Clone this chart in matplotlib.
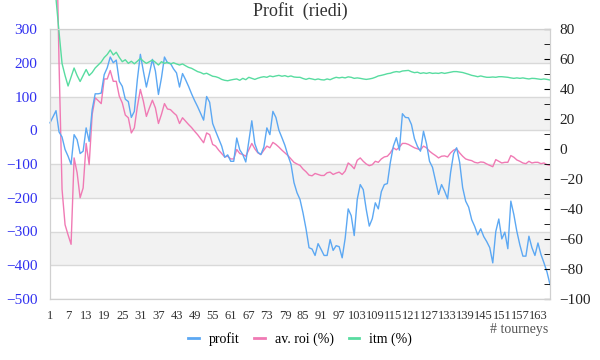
import matplotlib
matplotlib.use("Agg")
import matplotlib.pyplot as plt
from matplotlib.ticker import MultipleLocator

plt.rcParams['font.family'] = ['Liberation Serif', 'DejaVu Serif']

# datos (167 torneos)
profit = [22, 40, 58, -5, -20, -57, -77, -101, -13, -28, -69, -62, 7, -33, 61, 108, 108, 110,
          165, 185, 217, 200, 208, 145, 130, 92, 85, 38, 56, 150, 225, 175, 128, 168, 210, 175,
          106, 155, 217, 200, 198, 182, 170, 128, 168, 150, 130, 108, 88, 70, 50, 30, 100, 83,
          20, -3, -25, -47, -80, -73, -92, -92, -23, -58, -72, -94, -32, 28, -40, -65, -72, -50,
          7, -13, 56, 38, 0, -22, -45, -75, -100, -155, -185, -205, -245, -292, -348, -352, -371,
          -336, -353, -371, -371, -324, -356, -342, -345, -378, -320, -233, -253, -312, -205,
          -161, -176, -235, -284, -262, -215, -233, -182, -161, -158, -95, -47, -22, -59, 49, 38,
          37, 17, -25, -48, -62, -3, -40, -92, -110, -150, -190, -161, -180, -203, -125, -69, -52,
          -95, -170, -210, -228, -265, -285, -310, -292, -315, -330, -348, -393, -300, -263, -322,
          -302, -351, -210, -250, -300, -340, -373, -373, -314, -348, -371, -334, -368, -393, -420,
          -457]
roi = [600, 700, 650, 200, -175, -280, -310, -338, -82, -126, -200, -171, -39, -102, 47, 96, 88,
       79, 152, 152, 177, 145, 145, 101, 81, 45, 37, -8, 7, 70, 121, 86, 41, 66, 89, 66, 20, 47,
       79, 63, 61, 52, 44, 20, 37, 27, 17, 8, -3, -13, -25, -37, -8, -13, -42, -47, -59, -69, -79,
       -77, -85, -85, -57, -69, -72, -77, -58, -39, -55, -67, -72, -59, -47, -52, -36, -42, -50,
       -59, -67, -75, -85, -95, -100, -104, -115, -123, -133, -135, -128, -131, -134, -134, -126,
       -124, -131, -127, -124, -131, -121, -97, -104, -114, -89, -82, -92, -100, -105, -102, -92,
       -95, -85, -79, -77, -67, -52, -58, -50, -39, -39, -42, -47, -52, -55, -58, -47, -52, -62,
       -69, -75, -82, -77, -76, -79, -67, -59, -55, -67, -77, -85, -88, -90, -95, -97, -94, -95,
       -100, -104, -108, -87, -92, -97, -95, -95, -75, -80, -88, -92, -97, -99, -92, -97, -95,
       -95, -99, -97, -102, -104]
itm = [100, 100, 100, 78, 57, 49, 42, 48, 54, 49, 45, 49, 53, 49, 51, 54, 56, 58, 61, 63, 66,
       62.7, 64.5, 61.1, 58.2, 59.5, 57.1, 58.5, 56.8, 58.5, 60.4, 58.5, 57.1, 58.2, 59.3, 57.8,
       56, 58.2, 57.1, 57.8, 56.7, 57.5, 56.7, 56, 56.7, 55.5, 54.4, 53.8, 52.7, 51.6, 51, 50,
       50.5, 49.5, 48.5, 48.2, 47.5, 46.4, 45.8, 45.5, 46, 46.4, 46.7, 45.8, 47.1, 46.2, 47.8,
       47.1, 46.4, 47.2, 47.8, 48.2, 47.8, 48.7, 48.2, 48.7, 49.1, 48.5, 48.9, 48.2, 48.7, 48,
       47.8, 47.8, 47, 46.4, 47.1, 46.7, 46.2, 46.7, 46.2, 46, 46.7, 46.2, 47.1, 47.8, 47.4, 47.8,
       47.4, 48.1, 47.8, 47.1, 47.4, 47.1, 46.7, 46.4, 46.7, 47.1, 47.8, 48.7, 49.1, 49.6, 50.2,
       50.5, 51.2, 51.6, 51.3, 52, 52.2, 52.4, 51.5, 50.9, 51.2, 50.4, 50.8, 50.4, 50.9, 50.4,
       50.6, 50.4, 50.9, 50.4, 50.8, 51.2, 51.6, 51.6, 51.3, 51, 50.4, 49.8, 49.1, 48.7, 48.2,
       48.7, 48.2, 47.8, 47.8, 48, 47.8, 48.2, 48.2, 48, 47.8, 47.4, 47.1, 47.4, 47.1, 47.4, 47,
       46.7, 47.1, 47, 46.7, 46.4, 46.7, 46.4, 46]
tourneys = list(range(1, len(profit) + 1))
xlabels = [str(t) for t in tourneys[::6]]

c_profit = "#5ca8f3"
c_roi = "#f07ab4"
c_itm = "#58dca0"

fig = plt.figure(figsize=(6, 3.6), dpi=100)
ax = fig.add_axes([50/600, 1-299/360, 500/600, 270/360])
ax2 = ax.twinx()

# bandas alternas
for lo in range(-400, 300, 200):
    ax.axhspan(lo, lo + 100, color="#f2f2f2", zorder=0, lw=0)
ax.set_ylim(-500, 300)
ax.yaxis.set_major_locator(MultipleLocator(100))
ax.grid(True, axis="y", color="#d9d9d9", lw=1)
ax.set_axisbelow(True)

x = list(range(len(profit)))
ax.plot(x, profit, color=c_profit, lw=1, clip_on=False, zorder=3)
ax.plot(x, roi, color=c_roi, lw=1, clip_on=False, zorder=2)
ax2.plot(x, itm, color=c_itm, lw=1, clip_on=False, zorder=2)
ax.set_xlim(0, len(profit) - 1)
ax.set_xticks(x[::6])
ax.set_xticklabels(xlabels, fontsize=9, color="#333333")
ax.tick_params(axis="x", length=0, pad=8)
ax.tick_params(axis="y", length=0, labelsize=11, labelcolor="#3030f0", pad=9)

ax2.set_ylim(-100, 80)
ax2.yaxis.set_major_locator(MultipleLocator(20))
ax2.yaxis.set_minor_locator(MultipleLocator(10))
ax2.tick_params(axis="y", which="both", direction="in", length=4, color="#000000",
                labelsize=11, labelcolor="#222222", pad=7)

for a in (ax, ax2):
    for s in a.spines.values():
        s.set_color("#d0d0d0")

fig.suptitle("Profit  (riedi)", x=0.5, y=0.995, fontsize=13, color="#333333")
fig.text(548/600, 1-330/360, "# tourneys", ha="right", va="center", fontsize=10, color="#555555")

handles = [plt.Line2D([], [], color=c, lw=2) for c in (c_profit, c_roi, c_itm)]
fig.legend(handles, ["profit", "av. roi (%)", "itm (%)"], loc="center",
           bbox_to_anchor=(0.5, 1-339/360), ncol=3, frameon=False, fontsize=10,
           handlelength=0.75, handletextpad=0.7, columnspacing=1.1)

fig.savefig("out.png", dpi=100)
plt.close(fig)
